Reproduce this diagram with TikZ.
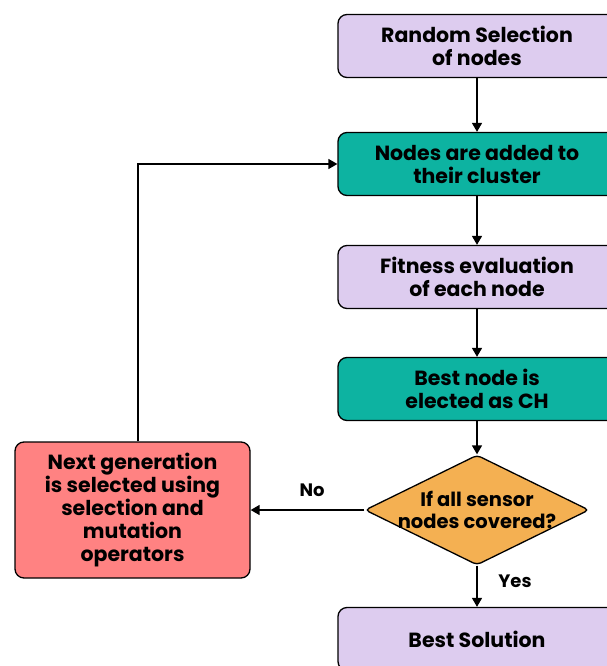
\documentclass[tikz,border=0pt]{standalone}
\usepackage{fontspec}
\setmainfont{Poppins}
\usetikzlibrary{shapes.geometric,arrows.meta}
\definecolor{lav}{HTML}{DDCCEF}
\definecolor{teal2}{HTML}{0DB3A1}
\definecolor{redbox}{HTML}{FF8282}
\definecolor{orng}{HTML}{F4B052}
\tikzset{
  box/.style={draw=black, line width=1.3pt, rounded corners=9pt, minimum width=278pt, minimum height=63pt, align=center, font=\fontsize{20.5}{23}\selectfont\bfseries, inner sep=0pt},
  arr/.style={line width=1.5pt, -{Triangle[length=9pt,width=10pt]}},
  lbl/.style={font=\fontsize{18}{20}\selectfont\bfseries}
}
\begin{document}
\begin{tikzpicture}[x=1pt,y=-1pt]
\useasboundingbox (0,0) rectangle (606,666);
\node[box, fill=lav] (b1) at (477,46) {Random Selection\\of nodes};
\node[box, fill=teal2] (b2) at (477,164) {Nodes are added to\\their cluster};
\node[box, fill=lav] (b3) at (477,277) {Fitness evaluation\\of each node};
\node[box, fill=teal2] (b4) at (477,389) {Best node is\\elected as CH};
\node[draw=black, line width=1.3pt, fill=orng, shape=diamond, minimum width=224pt, minimum height=110pt, inner sep=0pt, rounded corners=4pt] (d) at (477,510) {};
\node[align=center, font=\fontsize{19.5}{22.5}\selectfont\bfseries, inner sep=0pt] (dt) at (d.center) {If all sensor\\nodes covered?};
\node[box, fill=redbox, minimum width=235pt, minimum height=136pt] (r) at (132.5,510) {Next generation\\is selected using\\selection and\\mutation\\operators};
\node[box, fill=lav] (b5) at (477,639) {Best Solution};
\draw[arr] (b1) -- (b2);
\draw[arr] (b2) -- (b3);
\draw[arr] (b3) -- (b4);
\draw[arr] (b4) -- (d);
\draw[arr] (d) -- (b5);
\draw[arr] (d) -- (r);
\draw[arr] ([xshift=5.5pt]r.north) |- (b2.west);
\node[lbl] (no) at (312,490) {No};
\node[lbl] (yes) at (515,581) {Yes};
\end{tikzpicture}
\end{document}
